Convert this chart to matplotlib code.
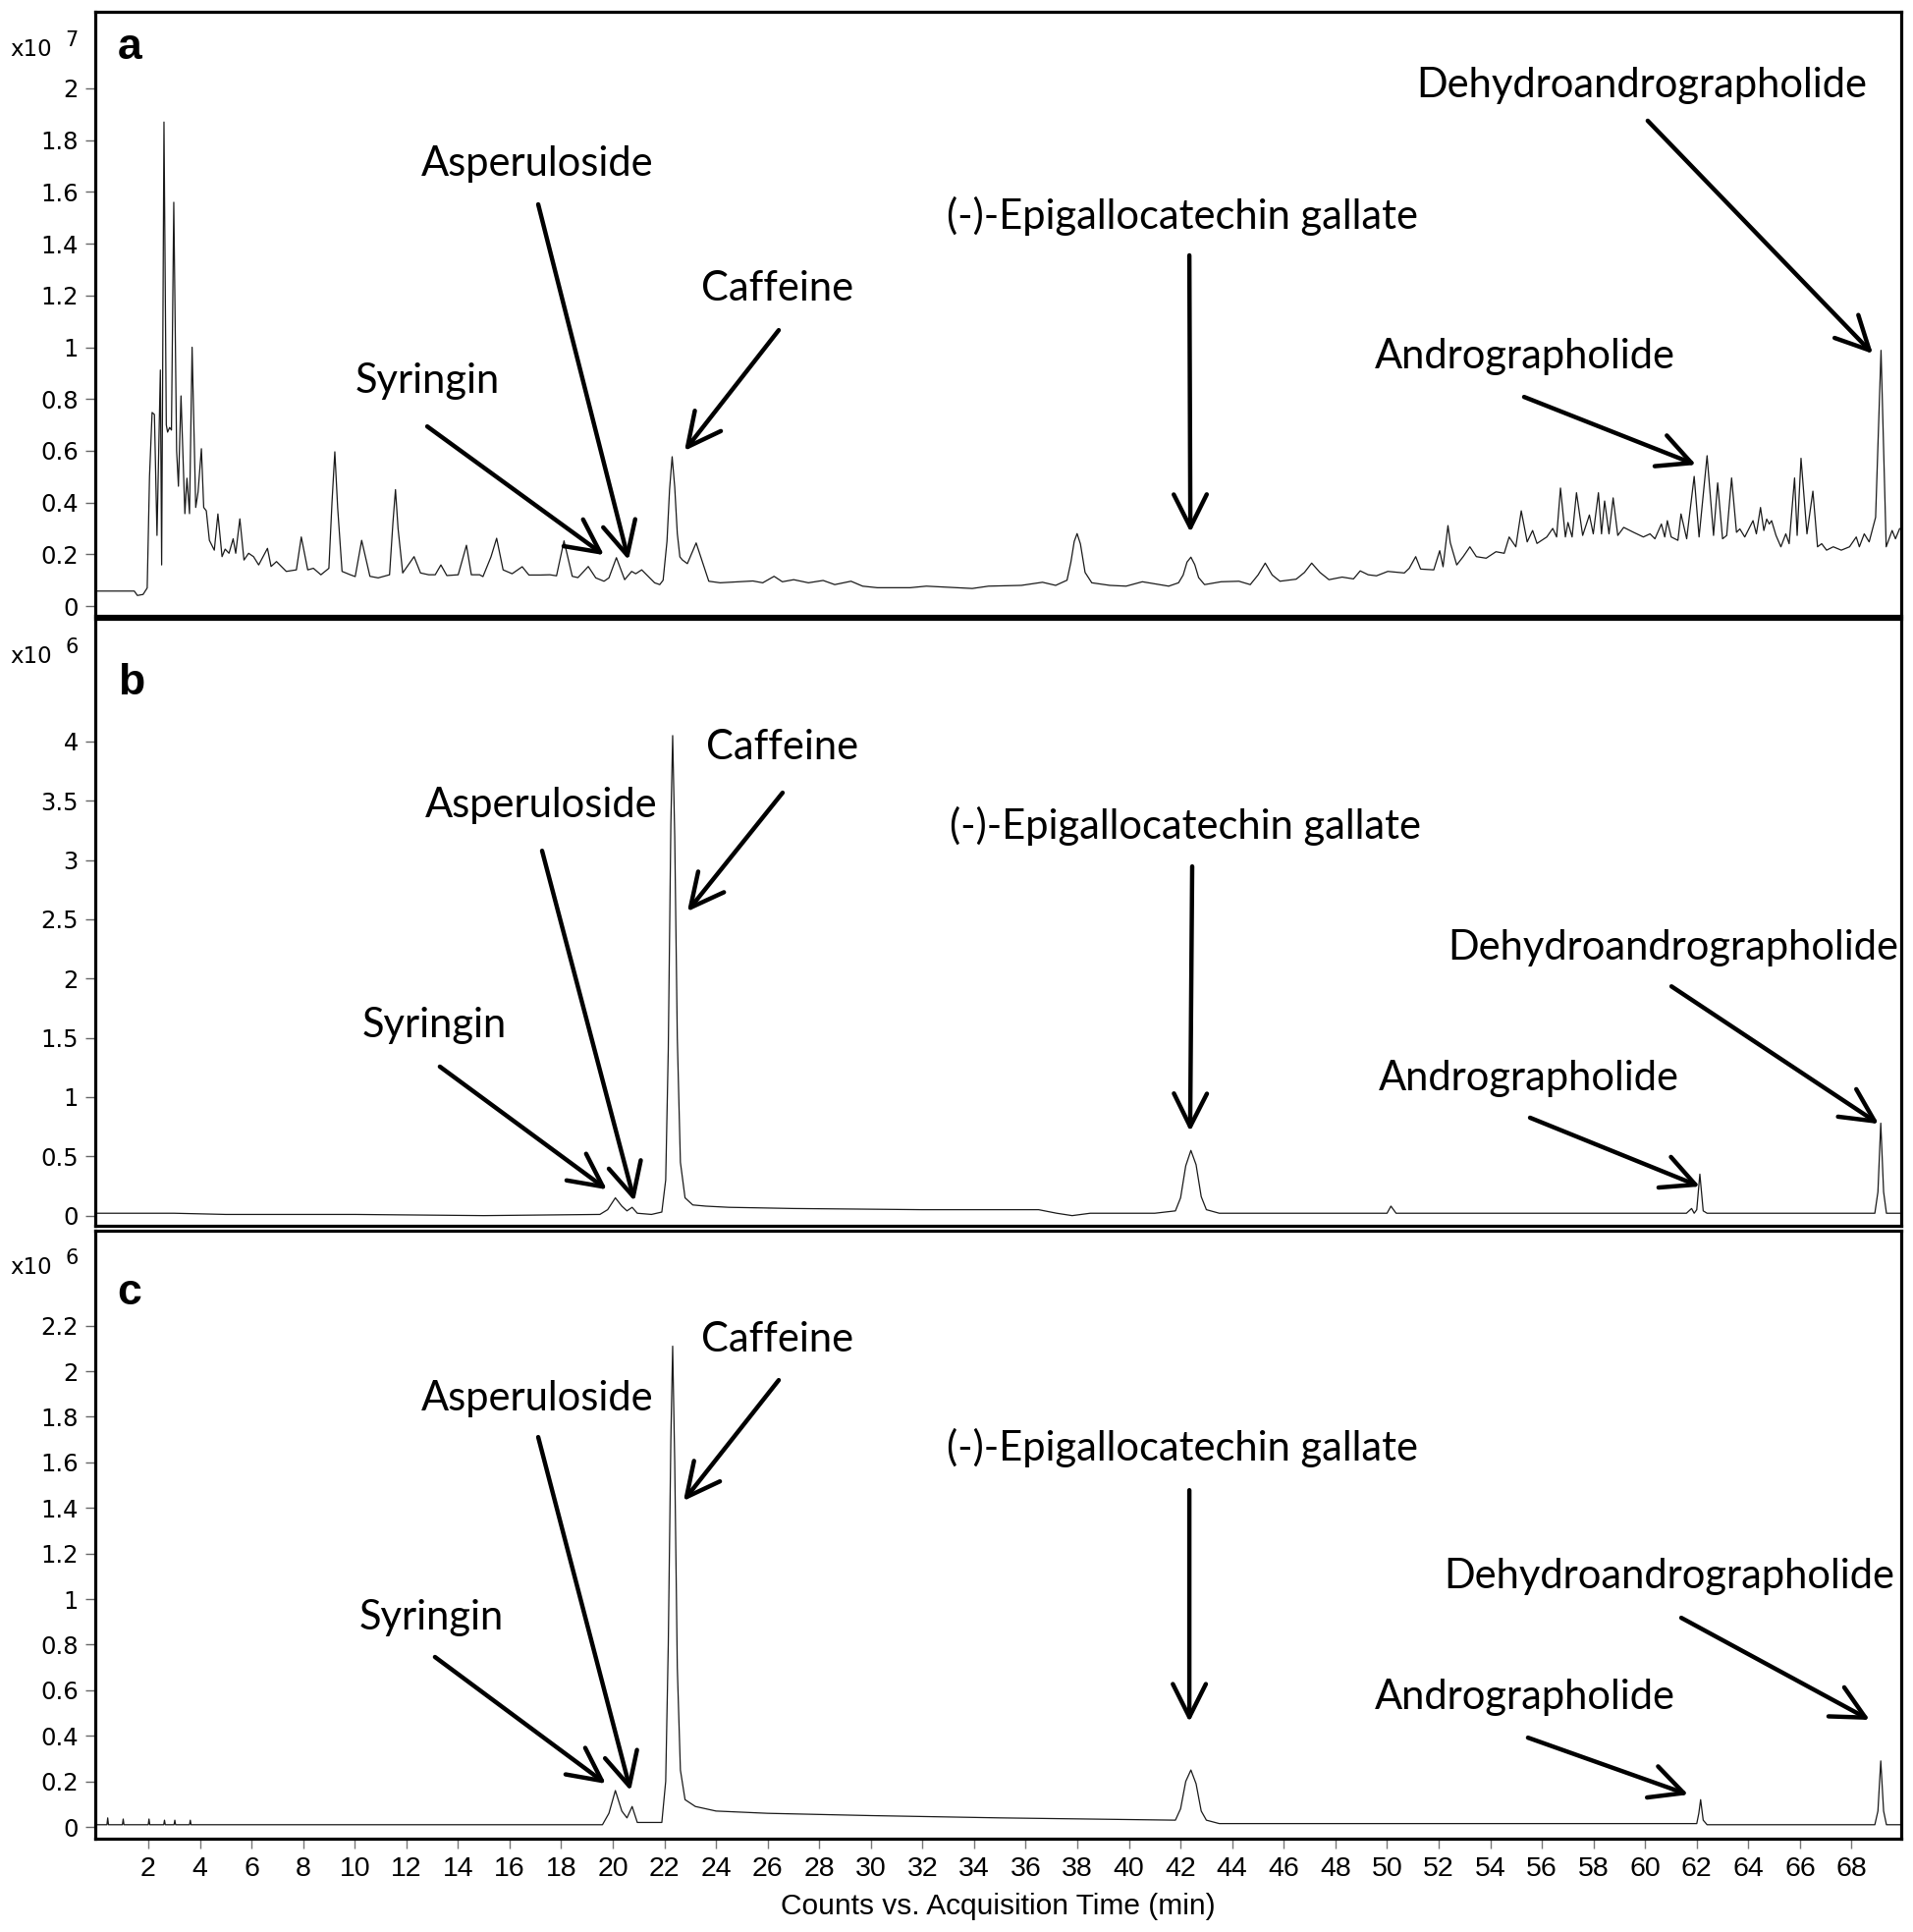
import matplotlib
matplotlib.use("Agg")
import matplotlib.pyplot as plt
from matplotlib.ticker import FuncFormatter

# ---- data ----
# panel a, total ion chromatogram (x10^7 counts)
a_time = [0.0, 1.46, 1.58, 1.8, 1.96, 2.05, 2.15, 2.24, 2.34, 2.47, 2.52, 2.61, 2.70, 2.75, 2.83,
          2.90, 2.99, 3.10, 3.17, 3.27, 3.42, 3.50, 3.60, 3.70, 3.84, 3.93, 4.06, 4.15, 4.25,
          4.37, 4.56, 4.70, 4.86, 4.98, 5.13, 5.29, 5.39, 5.55, 5.71, 5.89, 6.08, 6.28, 6.62,
          6.76, 6.97, 7.35, 7.74, 7.93, 8.18, 8.40, 8.69, 9.0, 9.12, 9.23, 9.34, 9.51, 9.83,
          10.02, 10.27, 10.59, 10.91, 11.35, 11.48, 11.58, 11.68, 11.86, 12.30, 12.55, 12.87,
          13.12, 13.34, 13.57, 14.01, 14.33, 14.52, 14.84, 14.97, 15.28, 15.50, 15.75, 16.1,
          16.49, 16.75, 17.2, 17.56, 17.82, 18.11, 18.43, 18.65, 19.05, 19.34, 19.66, 19.85,
          20.14, 20.46, 20.73, 20.89, 21.12, 21.62, 21.82, 21.95, 22.1, 22.2, 22.30, 22.4,
          22.5, 22.6, 22.70, 22.89, 23.23, 23.72, 24.16, 24.86, 25.43, 25.81, 26.25, 26.57,
          27.01, 27.58, 28.15, 28.6, 29.23, 29.68, 30.25, 31.52, 32.15, 33.93, 34.56, 35.83,
          36.65, 37.16, 37.6, 37.75, 37.88, 37.99, 38.12, 38.3, 38.56, 39.26, 39.89, 40.52,
          41.54, 41.92, 42.1, 42.25, 42.40, 42.55, 42.7, 42.93, 43.57, 44.26, 44.7, 45.0,
          45.28, 45.55, 45.85, 46.48, 46.8, 47.08, 47.4, 47.75, 48.26, 48.70, 48.96, 49.27,
          49.59, 50.03, 50.67, 50.86, 51.11, 51.30, 51.81, 52.04, 52.17, 52.36, 52.45, 52.70,
          52.95, 53.21, 53.46, 53.84, 54.22, 54.54, 54.73, 54.99, 55.20, 55.43, 55.64, 55.81,
          56.19, 56.42, 56.57, 56.72, 56.91, 57.01, 57.17, 57.34, 57.58, 57.84, 57.99, 58.19,
          58.31, 58.43, 58.60, 58.76, 58.94, 59.17, 59.55, 59.93, 60.19, 60.38, 60.63, 60.76,
          60.86, 61.01, 61.27, 61.39, 61.61, 61.90, 62.09, 62.40, 62.65, 62.81, 63.0, 63.16,
          63.35, 63.54, 63.67, 63.86, 64.18, 64.31, 64.47, 64.60, 64.71, 64.81, 64.90, 65.07,
          65.26, 65.45, 65.58, 65.79, 65.89, 66.04, 66.27, 66.50, 66.68, 66.84, 67.03, 67.29,
          67.60, 67.92, 68.18, 68.30, 68.49, 68.68, 68.93, 69.14, 69.34, 69.57, 69.70, 69.86]
a_counts = [0.058, 0.058, 0.041, 0.045, 0.07, 0.50, 0.748, 0.74, 0.273, 0.912, 0.159, 1.87, 0.70, 0.672, 0.69,
            0.68, 1.56, 0.60, 0.463, 0.812, 0.357, 0.494, 0.357, 1.0, 0.381, 0.44, 0.608, 0.381, 0.368,
            0.254, 0.216, 0.356, 0.191, 0.22, 0.204, 0.26, 0.204, 0.337, 0.178, 0.204, 0.191, 0.159, 0.223,
            0.153, 0.172, 0.134, 0.14, 0.267, 0.14, 0.146, 0.121, 0.146, 0.40, 0.596, 0.38, 0.134, 0.121,
            0.114, 0.254, 0.115, 0.109, 0.121, 0.32, 0.45, 0.30, 0.128, 0.191, 0.128, 0.121,
            0.121, 0.159, 0.118, 0.121, 0.235, 0.121, 0.121, 0.114, 0.19, 0.262, 0.14, 0.125,
            0.152, 0.12, 0.12, 0.121, 0.117, 0.252, 0.115, 0.11, 0.153, 0.109, 0.096, 0.109,
            0.187, 0.102, 0.134, 0.125, 0.14, 0.09, 0.083, 0.10, 0.25, 0.45, 0.577, 0.46,
            0.28, 0.19, 0.178, 0.164, 0.244, 0.096, 0.09, 0.094, 0.097, 0.09, 0.115, 0.094,
            0.102, 0.09, 0.099, 0.083, 0.096, 0.077, 0.071, 0.071, 0.077, 0.068, 0.077, 0.08,
            0.092, 0.08, 0.10, 0.17, 0.25, 0.28, 0.24, 0.13, 0.09, 0.08, 0.077, 0.094,
            0.077, 0.09, 0.12, 0.17, 0.189, 0.16, 0.11, 0.083, 0.094, 0.096, 0.083, 0.12,
            0.166, 0.12, 0.096, 0.104, 0.13, 0.166, 0.13, 0.102, 0.112, 0.105, 0.136, 0.121,
            0.117, 0.134, 0.128, 0.146, 0.191, 0.143, 0.14, 0.214, 0.152, 0.311, 0.245, 0.159,
            0.191, 0.229, 0.191, 0.185, 0.21, 0.204, 0.267, 0.229, 0.368, 0.248, 0.292, 0.242,
            0.267, 0.30, 0.267, 0.456, 0.267, 0.323, 0.267, 0.438, 0.273, 0.352, 0.279, 0.438,
            0.279, 0.406, 0.279, 0.418, 0.273, 0.304, 0.285, 0.267, 0.279, 0.260, 0.317, 0.267,
            0.330, 0.267, 0.254, 0.356, 0.260, 0.501, 0.267, 0.581, 0.273, 0.476, 0.260, 0.273,
            0.495, 0.285, 0.298, 0.267, 0.330, 0.279, 0.381, 0.292, 0.336, 0.317, 0.330, 0.273,
            0.229, 0.279, 0.241, 0.495, 0.273, 0.571, 0.279, 0.444, 0.229, 0.241, 0.216, 0.229,
            0.216, 0.229, 0.267, 0.229, 0.279, 0.248, 0.343, 0.988, 0.229, 0.292, 0.26, 0.299]

# panel b (x10^6 counts)
b_time = [0.0, 3.0, 5.0, 10.0, 15.0, 19.5, 19.8, 20.1, 20.35, 20.55, 20.75, 20.95, 21.5, 21.9,
          22.05, 22.15, 22.25, 22.32, 22.4, 22.5, 22.62, 22.8, 23.1, 23.6, 24.5, 27.0, 32.0,
          36.5, 37.2, 37.8, 38.5, 41.0, 41.8, 42.0, 42.2, 42.4, 42.6, 42.8, 43.0, 43.5, 50.0,
          50.15, 50.35, 61.6, 61.8, 61.9, 62.0, 62.12, 62.25, 62.4, 68.9, 69.02, 69.13, 69.24,
          69.35, 69.9]
b_counts = [0.02, 0.02, 0.01, 0.01, 0.0, 0.01, 0.05, 0.15, 0.08, 0.04, 0.07, 0.02, 0.01, 0.03,
            0.3, 1.4, 3.3, 4.05, 3.2, 1.5, 0.45, 0.15, 0.09, 0.08, 0.07, 0.06, 0.05,
            0.05, 0.02, 0.0, 0.02, 0.02, 0.04, 0.15, 0.42, 0.55, 0.43, 0.16, 0.05, 0.02, 0.02,
            0.08, 0.02, 0.02, 0.06, 0.02, 0.05, 0.35, 0.04, 0.02, 0.02, 0.2, 0.78, 0.2,
            0.02, 0.02]

# panel c (x10^6 counts)
c_time = [0.0, 0.4, 0.43, 0.46, 1.0, 1.03, 1.06, 2.0, 2.03, 2.06, 2.6, 2.63, 2.66, 3.0, 3.03,
          3.06, 3.6, 3.63, 3.66, 8.0, 15.0, 19.6, 19.85,
          20.1, 20.35, 20.55, 20.75, 20.95, 21.9, 22.05, 22.15, 22.25, 22.32, 22.4, 22.5, 22.62,
          22.8, 23.2, 24.0, 26.0, 30.0, 35.0, 41.8, 42.0, 42.2, 42.4, 42.6, 42.8, 43.0, 43.5,
          62.0, 62.08, 62.15, 62.25, 62.4, 68.9, 69.02, 69.13, 69.24, 69.35, 69.9]
c_counts = [0.01, 0.01, 0.04, 0.01, 0.01, 0.035, 0.01, 0.01, 0.035, 0.01, 0.01, 0.03, 0.01, 0.01, 0.03,
            0.01, 0.01, 0.03, 0.01, 0.01, 0.01, 0.01, 0.06,
            0.16, 0.07, 0.04, 0.09, 0.02, 0.02, 0.2, 0.8, 1.7, 2.11, 1.6, 0.7, 0.25,
            0.12, 0.09, 0.07, 0.06, 0.05, 0.04, 0.03, 0.08, 0.2, 0.25, 0.19, 0.07, 0.03, 0.015,
            0.015, 0.06, 0.12, 0.03, 0.01, 0.01, 0.07, 0.29, 0.07, 0.01, 0.01]

compounds = ["Syringin", "Asperuloside", "Caffeine", "(-)-Epigallocatechin gallate",
             "Andrographolide", "Dehydroandrographolide"]

# label layout per panel: text (x, y), arrow tail (x, y), arrow head (x, y) in data units
a_layout = [((12.81, 0.869), (12.81, 0.694), (19.66, 0.197)),
            ((17.07, 1.708), (17.11, 1.552), (20.61, 0.178)),
            ((26.39, 1.226), (26.43, 1.066), (22.78, 0.60)),
            ((42.07, 1.507), (42.34, 1.355), (42.38, 0.285)),
            ((55.35, 0.964), (55.31, 0.808), (61.97, 0.546)),
            ((59.88, 2.010), (60.10, 1.875), (68.82, 0.975))]
b_layout = [((13.07, 1.605), (13.30, 1.257), (19.77, 0.22)),
            ((17.22, 3.459), (17.26, 3.078), (20.84, 0.122)),
            ((26.55, 3.95), (26.58, 3.568), (22.89, 2.566)),
            ((42.19, 3.285), (42.45, 2.946), (42.37, 0.71)),
            ((55.50, 1.157), (55.54, 0.826), (62.12, 0.246)),
            ((61.09, 2.257), (61.02, 1.934), (69.05, 0.774))]
c_layout = [((12.96, 0.917), (13.11, 0.746), (19.73, 0.19)),
            ((17.07, 1.880), (17.11, 1.711), (20.69, 0.159)),
            ((26.39, 2.137), (26.43, 1.961), (22.74, 1.431)),
            ((42.07, 1.664), (42.34, 1.478), (42.34, 0.461)),
            ((55.35, 0.568), (55.46, 0.392), (61.67, 0.142)),
            ((60.94, 1.098), (61.40, 0.918), (68.70, 0.47))]

x_ticks = list(range(2, 70, 2))

W, H = 1949, 1967
fig = plt.figure(figsize=(W / 100, H / 100), dpi=100)

x_font = "Liberation Sans"
y_font = "DejaVu Sans"
label_font = "Lato"


def fmt(v, pos):
    return "%g" % round(v, 2)


def make_panel(rect, t, y, ylim, yticks, letter, exponent, layout, bottom=False):
    ax = fig.add_axes(rect)
    ax.plot(t, y, color="#1a1a1a", lw=0.9)
    ax.set_xlim(-0.065, 69.92)
    ax.set_ylim(*ylim)
    ax.set_yticks(yticks)
    ax.yaxis.set_major_formatter(FuncFormatter(fmt))
    for s in ax.spines.values():
        s.set_linewidth(2.3)
        s.set_color("black")
    ax.tick_params(axis="y", length=7, width=1, color="#666666", pad=5,
                   labelsize=17.5)
    for lab in ax.get_yticklabels():
        lab.set_fontfamily(y_font)
    if bottom:
        ax.set_xticks(x_ticks)
        ax.tick_params(axis="x", length=7, width=1, color="#777777", pad=6,
                       labelsize=20.5)
        for lab in ax.get_xticklabels():
            lab.set_fontfamily(x_font)
    else:
        ax.set_xticks([])
    ax.text(0.0125, 1 - letter[1], letter[0], transform=ax.transAxes, fontsize=32,
            fontweight="bold", family=x_font, va="baseline", ha="left")
    # multiplier label outside the frame
    top_px = (1 - rect[1] - rect[3]) * H
    fig.text(10 / W, 1 - (top_px + exponent[1]) / H, "x10", fontsize=16.5,
             family=y_font, va="baseline", ha="left")
    fig.text(66 / W, 1 - (top_px + exponent[1] - 10) / H, exponent[0], fontsize=15,
             family=y_font, va="baseline", ha="left")
    for name, (txt, tail, head) in zip(compounds, layout):
        ax.text(txt[0], txt[1], name, fontsize=30, family=label_font,
                ha="center", va="center")
        ax.annotate("", xy=head, xytext=tail,
                    arrowprops=dict(arrowstyle="->,head_length=1.1,head_width=0.55",
                                    lw=3.2, color="black", shrinkA=0, shrinkB=0,
                                    mutation_scale=22))
    return ax


ax_a = make_panel([0.0496, 0.6812, 0.9437, 0.31285], a_time, a_counts,
                  (-0.038, 2.297), [i * 0.2 for i in range(11)],
                  ("a", 0.0785), ("7", 45), a_layout)
ax_b = make_panel([0.0496, 0.3654, 0.9437, 0.3143], b_time, b_counts,
                  (-0.088, 5.035), [i * 0.5 for i in range(9)],
                  ("b", 0.124), ("6", 45), b_layout)
ax_c = make_panel([0.0496, 0.04845, 0.9437, 0.31435], c_time, c_counts,
                  (-0.050, 2.615), [i * 0.2 for i in range(12)],
                  ("c", 0.121), ("6", 44), c_layout, bottom=True)

fig.text(1016 / W, 1 - 1941 / H, "Counts vs. Acquisition Time (min)", fontsize=21.5,
         family=x_font, ha="center", va="center")

fig.savefig("out.png", dpi=100)
